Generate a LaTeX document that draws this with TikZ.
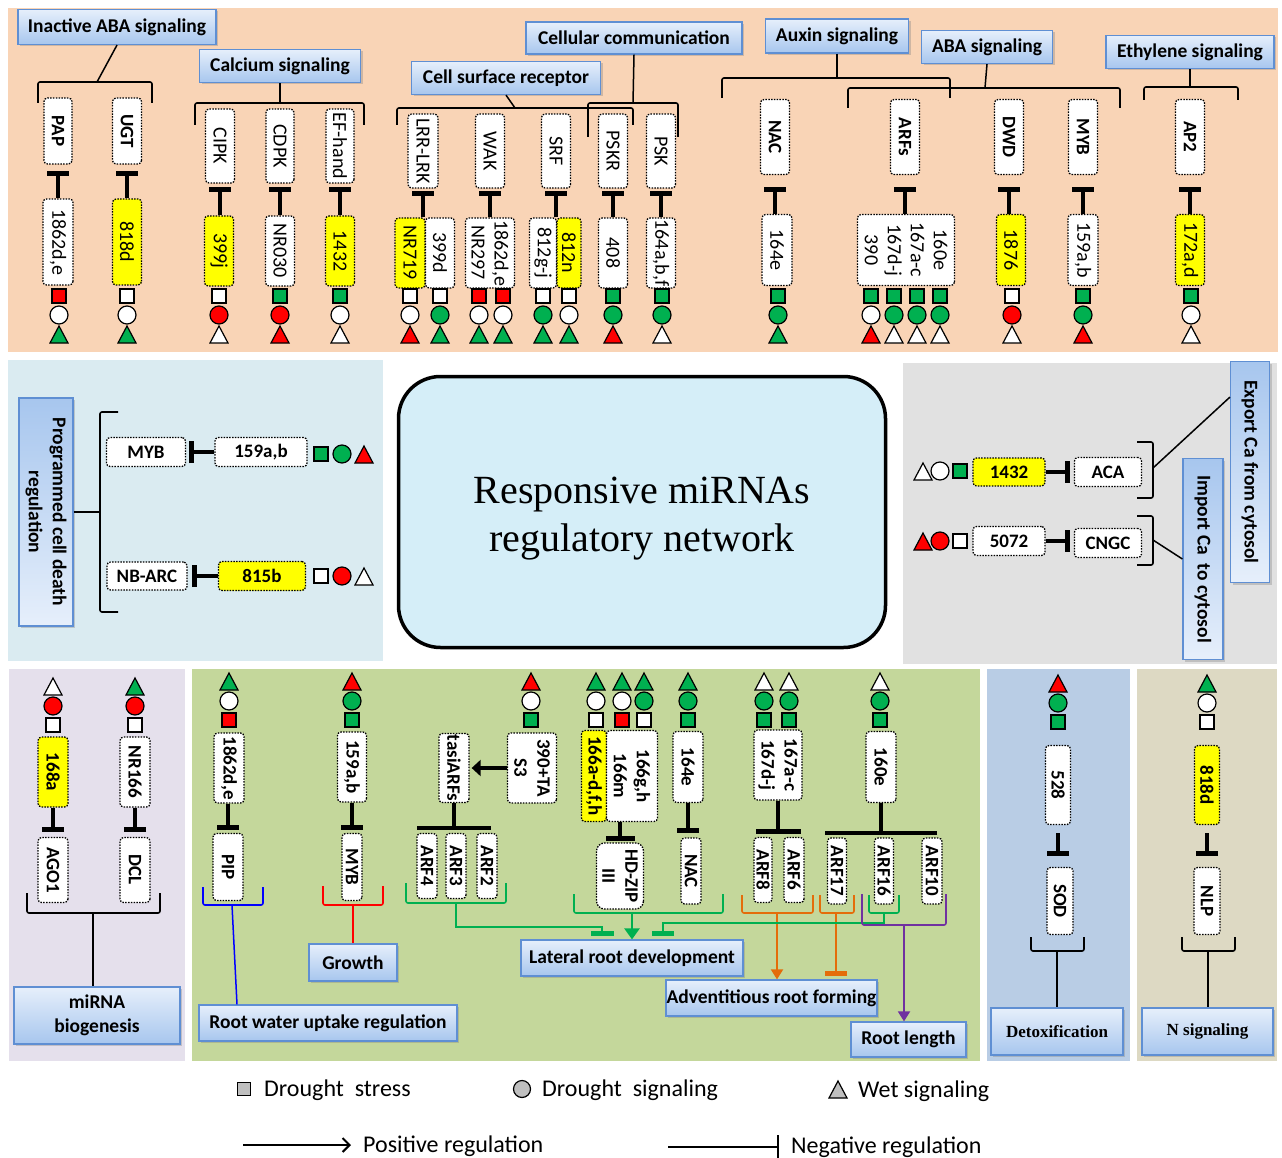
\documentclass[tikz,border=0pt]{standalone}
\usepackage{fontspec}
\setmainfont{Carlito}
\newfontfamily\tnr{Liberation Serif}
\usetikzlibrary{arrows.meta,shadows,calc}
\definecolor{peach}{HTML}{F9D4B6}
\definecolor{mlblue}{HTML}{DAEBF1}
\definecolor{mgray}{HTML}{E1E1E1}
\definecolor{lav}{HTML}{E5E0EC}
\definecolor{lgreen}{HTML}{C4D79B}
\definecolor{bpanel}{HTML}{B9CDE5}
\definecolor{tanp}{HTML}{DDD9C3}
\definecolor{titlefill}{HTML}{D5EEF8}
\definecolor{lbltop}{HTML}{E6EFFB}
\definecolor{lblbot}{HTML}{A7C6EE}
\definecolor{lbldraw}{HTML}{5F8FD3}
\definecolor{yel}{HTML}{FFFF00}
\definecolor{rd}{HTML}{FF0000}
\definecolor{gn}{HTML}{00B050}
\definecolor{glc}{HTML}{00B050}
\definecolor{olc}{HTML}{E46C0A}
\definecolor{plc}{HTML}{7030A0}
\definecolor{blc}{HTML}{0000FF}
\definecolor{rlc}{HTML}{FF0000}
\definecolor{lgd}{HTML}{BFBFBF}
\newcommand\fs[2]{\fontsize{#1}{#2}\selectfont}
\newcommand\gbf{\fs{19}{23}\bfseries}
\newcommand\GB[8][]{\node[gb,fill=#7,minimum width=#6,minimum height=#5,#1] (#2) at (#3,#4) {#8};}
\newcommand\GH[8][]{\node[gbh,fill=#7,minimum width=#5,minimum height=#6,#1] (#2) at (#3,#4) {#8};}
\newcommand\SQ[3]{\filldraw[sym,fill=#3] ({#1-7},{#2-7}) rectangle ({#1+7},{#2+7});}
\newcommand\CI[3]{\filldraw[sym,fill=#3] (#1,#2) circle[radius=9pt];}
\newcommand\TR[3]{\filldraw[sym,fill=#3] ({#1-9},{#2+8}) -- (#1,{#2-9}) -- ({#1+9},{#2+8}) -- cycle;}
\newcommand\ST[4]{\SQ{#1}{296}{#2}\CI{#1}{315}{#3}\TR{#1}{335}{#4}}
\newcommand\SB[5]{\TR{#1}{#2}{#3}\CI{#1}{#2+19}{#4}\SQ{#1}{#2+38}{#5}}
\begin{document}
\begin{tikzpicture}[x=1pt,y=-1pt,
  gb/.style={draw, line width=1.3pt, dash pattern=on 1.5pt off 1.3pt, rounded corners=3.5pt, inner sep=0pt, align=center, rotate=-90, font=\fs{20}{23}},
  gbh/.style={draw, line width=1.3pt, dash pattern=on 1.5pt off 1.3pt, rounded corners=3.5pt, inner sep=0pt, align=center, font=\gbf},
  lbl/.style={draw=lbldraw, line width=1.2pt, top color=lbltop, bottom color=lblbot, font=\fs{19.5}{24}\bfseries, align=center, inner sep=0pt, drop shadow={opacity=0.35, shadow xshift=2pt, shadow yshift=-2pt}},
  lblr/.style={lbl, rotate=-90, top color=lblbot, bottom color=lbltop},
  sym/.style={line width=1.2pt},
  inh/.style={line width=3.5pt, -{Bar[width=22pt,line width=5pt]}},
  ln/.style={line width=1.5pt},
  brk/.style={line width=1.6pt, rounded corners=2pt},
  gl/.style={line width=1.8pt, draw=glc},
  ol/.style={line width=1.8pt, draw=olc},
  pl/.style={line width=1.8pt, draw=plc},
  lgt/.style={anchor=west, inner sep=0pt, font=\fs{24}{27}}]
\useasboundingbox (0,0) rectangle (1282,1158);
\fill[white] (0,0) rectangle (1282,1158);
% panels
\fill[peach] (8,8) rectangle (1278,352);
\fill[mlblue] (8,360) rectangle (383,661);
\fill[mgray] (903,363) rectangle (1277,664);
\fill[lav] (9,669) rectangle (185,1061);
\fill[lgreen] (192,669) rectangle (980,1061);
\fill[bpanel] (987,669) rectangle (1130,1061);
\fill[tanp] (1137,669) rectangle (1277,1061);

% ---------------- TOP PANEL ----------------
\node[lbl,minimum width=198,minimum height=35] (lInact) at (117,27) {Inactive ABA signaling};
\node[lbl,minimum width=161,minimum height=33] (lCal) at (280,66) {Calcium signaling};
\node[lbl,minimum width=189,minimum height=33] (lCSR) at (506,78) {Cell surface receptor};
\node[lbl,minimum width=216,minimum height=32] (lCC) at (634,38) {Cellular communication};
\node[lbl,minimum width=143,minimum height=34] (lAux) at (837,36) {Auxin signaling};
\node[lbl,minimum width=131,minimum height=33] (lABA) at (987,47) {ABA signaling};
\node[lbl,minimum width=168,minimum height=33] (lEth) at (1190,52) {Ethylene signaling};

% brackets top
\draw[brk] (38,103) -- (38,82) -- (152,82) -- (152,103);
\coordinate (bInact) at (97,82);
\draw[ln] (lInact.south) -- (bInact);
\draw[brk] (195,125) -- (195,103) -- (364,103) -- (364,125);
\coordinate (bCal) at (280,103);
\draw[ln] (lCal.south) -- (bCal);
\draw[brk] (397,125) -- (397,108) -- (633,108) -- (633,125);
\coordinate (bCSR) at (515,108);
\draw[ln] (lCSR.south) -- (bCSR);
\draw[brk] (588,137) -- (588,103) -- (678,103) -- (678,137);
\coordinate (bCC) at (633,103);
\draw[ln] (lCC.south) -- (bCC);
\draw[brk] (722,98) -- (722,78) -- (950,78) -- (950,98);
\coordinate (bAux) at (837,78);
\draw[ln] (lAux.south) -- (bAux);
\draw[brk] (848,108) -- (848,88) -- (1120,88) -- (1120,108);
\coordinate (bABA) at (985,88);
\draw[ln] (lABA.south) -- (bABA);
\draw[brk] (1144,100) -- (1144,87) -- (1238,87) -- (1238,100);
\coordinate (bEth) at (1190,87);
\draw[ln] (lEth.south) -- (bEth);

% genes group 1
\GB[font=\gbf]{gPAP}{58}{131}{28}{66}{white}{PAP}
\GB[font=\gbf]{gUGT}{127}{131}{29}{66}{white}{UGT}
\GB{m1862a}{58}{242}{30}{86}{white}{1862d,e}
\GB{m818a}{127}{242}{29}{86}{yel}{818d}
\draw[inh,shorten >=6.5pt] (gPAP |- m1862a.west) -- (gPAP.east);
\draw[inh,shorten >=6.5pt] (gUGT |- m818a.west) -- (gUGT.east);
% calcium
\GB{gCIPK}{220}{146}{29}{74}{white}{CIPK}
\GB{gCDPK}{280}{146}{28}{74}{white}{CDPK}
\GB{gEF}{340}{146}{28}{74}{white}{EF-hand}
\GB{m399j}{219}{251}{29}{70}{yel}{399j}
\GB{mNR030}{280}{251}{29}{70}{white}{NR030}
\GB{m1432a}{340}{251}{29}{70}{yel}{1432}
\draw[inh,shorten >=3.5pt] (gCIPK |- m399j.west) -- (gCIPK.east);
\draw[inh,shorten >=3.5pt] (gCDPK |- mNR030.west) -- (gCDPK.east);
\draw[inh,shorten >=3.5pt] (gEF |- m1432a.west) -- (gEF.east);
% cell surface
\GB{gLRR}{423}{151}{30}{74}{white}{LRR-LRK}
\GB{gWAK}{490}{151}{29}{74}{white}{WAK}
\GB{gSRF}{556}{151}{29}{74}{white}{SRF}
\GB{gPSKR}{613}{151}{29}{74}{white}{PSKR}
\GB{gPSK}{661}{151}{29}{74}{white}{PSK}
\GB{mNR719}{410}{253}{30}{70}{yel}{NR719}
\GB{m399d}{440}{253}{29}{70}{white}{399d}
\GB{mWAK}{490}{253}{49}{70}{white}{1862d,e\\NR297}
\GB{m812gj}{543}{253}{27}{70}{white}{812g-j}
\GB{m812n}{569}{253}{24}{70}{yel}{812n}
\GB{m408}{613}{253}{29}{70}{white}{408}
\GB{m164abf}{661}{253}{29}{70}{white}{164a,b,f}
\draw[inh,shorten >=2.5pt] (gLRR |- mNR719.west) -- (gLRR.east);
\draw[inh,shorten >=2.5pt] (gWAK |- mWAK.west) -- (gWAK.east);
\draw[inh,shorten >=2.5pt] (gSRF |- m812gj.west) -- (gSRF.east);
\draw[inh,shorten >=2.5pt] (gPSKR |- m408.west) -- (gPSKR.east);
\draw[inh,shorten >=2.5pt] (gPSK |- m164abf.west) -- (gPSK.east);
% auxin / ABA / ethylene
\GB[font=\gbf]{gNAC}{775}{137}{29}{75}{white}{NAC}
\GB[font=\gbf]{gARFs}{905}{137}{29}{75}{white}{ARFs}
\GB[font=\gbf]{gDWD}{1009}{137}{29}{75}{white}{DWD}
\GB[font=\gbf]{gMYB}{1083}{137}{29}{75}{white}{MYB}
\GB[font=\gbf]{gAP2}{1190}{137}{29}{75}{white}{AP2}
\GB{m164e}{777}{250}{30}{71}{white}{164e}
\GB{mARFs}{906}{250}{97}{71}{white}{160e\\167a-c\\167d-j\\390}
\GB{m1876}{1011}{250}{29}{71}{yel}{1876}
\GB{m159t}{1083}{250}{30}{71}{white}{159a,b}
\GB{m172}{1190}{250}{29}{71}{yel}{172a,d}
\draw[inh,shorten >=11.5pt] (gNAC |- m164e.west) -- (gNAC.east);
\draw[inh,shorten >=11.5pt] (gARFs |- mARFs.west) -- (gARFs.east);
\draw[inh,shorten >=11.5pt] (gDWD |- m1876.west) -- (gDWD.east);
\draw[inh,shorten >=11.5pt] (gMYB |- m159t.west) -- (gMYB.east);
\draw[inh,shorten >=11.5pt] (gAP2 |- m172.west) -- (gAP2.east);

% symbols top
\ST{59}{rd}{white}{gn}
\ST{127}{white}{white}{gn}
\ST{219}{white}{rd}{white}
\ST{280}{gn}{rd}{rd}
\ST{340}{gn}{white}{white}
\ST{410}{white}{white}{rd}
\ST{440}{white}{gn}{gn}
\ST{479}{rd}{white}{gn}
\ST{503}{rd}{white}{gn}
\ST{543}{white}{gn}{gn}
\ST{569}{white}{white}{gn}
\ST{613}{gn}{gn}{rd}
\ST{662}{gn}{gn}{white}
\ST{778}{gn}{gn}{gn}
\ST{871}{gn}{white}{rd}
\ST{894}{gn}{gn}{white}
\ST{917}{gn}{gn}{white}
\ST{940}{gn}{gn}{white}
\ST{1012}{white}{rd}{white}
\ST{1083}{gn}{gn}{rd}
\ST{1191}{gn}{white}{white}

% ---------------- MIDDLE ----------------
\node[lblr, minimum width=228, minimum height=54] (lPCD) at (46,512) {Programmed cell death\\regulation};
\draw[brk] (118,412) -- (100,412) -- (100,612) -- (118,612);
\coordinate (bPCD) at (100,512);
\draw[ln] (lPCD.north) -- (bPCD);
\GH{hMYB}{146}{452}{79}{29}{white}{MYB}
\GH{h159}{261}{452}{92}{29}{white}{159a,b}
\draw[inh, shorten >=3pt] (h159) -- (hMYB);
\GH{hNB}{147}{576}{80}{28}{white}{NB-ARC}
\GH{h815}{262}{576}{87}{29}{yel}{815b}
\draw[inh, shorten >=4pt] (h815) -- (hNB);
\SQ{321}{454}{gn}\CI{342}{454}{gn}\TR{364}{455}{rd}
\SQ{321}{576}{white}\CI{342}{576}{rd}\TR{364}{577}{white}

\node[draw, line width=3.5pt, rounded corners=42pt, fill=titlefill, minimum width=487, minimum height=271] (title) at (642,512) {};
\node[align=center, inner sep=0pt, font=\tnr\fs{40}{48}] (titletxt) at (642,519) {Responsive miRNAs\\regulatory network};

\node[lblr, minimum width=221, minimum height=39] (lExp) at (1250,472) {Export Ca from cytosol};
\node[lblr, minimum width=201, minimum height=40] (lImp) at (1203,559) {Import Ca\ \ to cytosol};
\GH{hACA}{1108}{472}{67}{29}{white}{ACA}
\GH{h1432}{1009}{472}{72}{28}{yel}{1432}
\draw[inh, shorten >=4pt] (h1432) -- (hACA);
\GH{hCNGC}{1108}{543}{67}{29}{white}{CNGC}
\GH{h5072}{1009}{541}{72}{29}{white}{5072}
\draw[inh, shorten >=4pt] (h5072) -- (h5072 -| hCNGC.west);
\TR{923}{472}{white}\CI{940}{471}{white}\SQ{960}{471}{gn}
\TR{923}{542}{rd}\CI{940}{541}{rd}\SQ{960}{541}{white}
\draw[brk] (1137,442) -- (1153,442) -- (1153,498) -- (1137,498);
\coordinate (bACA) at (1153,468);
\draw[ln] (bACA) -- ($(lExp.south west)!0.163!(lExp.south east)$);
\draw[brk] (1137,516) -- (1153,516) -- (1153,565) -- (1137,565);
\coordinate (bCNGC) at (1153,540);
\draw[ln] (bCNGC) -- (lImp.south);

% ---------------- BOTTOM ----------------
% lavender
\SB{53}{687}{white}{rd}{white}
\SB{135}{687}{gn}{rd}{white}
\GB[font=\gbf]{b168a}{53}{772}{30}{70}{yel}{168a}
\GB[font=\gbf]{bNR166}{135}{772}{30}{70}{white}{NR166}
\GB[font=\gbf]{bAGO1}{53}{870}{30}{65}{white}{AGO1}
\GB[font=\gbf]{bDCL}{135}{870}{30}{65}{white}{DCL}
\draw[inh, shorten >=5pt] (bAGO1 |- b168a.east) -- (bAGO1.west);
\draw[inh, shorten >=5pt] (bDCL |- bNR166.east) -- (bDCL.west);
\node[lbl, minimum width=166, minimum height=57] (lMB) at (97,1015.5) {miRNA\\biogenesis};
\draw[brk] (27,893) -- (27,913) -- (160,913) -- (160,893);
\coordinate (bMB) at (93,913);
\draw[ln] (bMB) -- (bMB |- lMB.north);

% green panel
\node[lbl, minimum width=258, minimum height=36] (lRW) at (328,1023) {Root water uptake regulation};
\node[lbl, minimum width=88, minimum height=37] (lGr) at (353,962.5) {Growth};
\node[lbl, minimum width=222, minimum height=36] (lLat) at (632,958) {Lateral root development};
\node[lbl, minimum width=211, minimum height=36] (lAd) at (771.5,998) {Adventitious root forming};
\node[lbl, minimum width=115, minimum height=35] (lRL) at (908.5,1039.5) {Root length};

\SB{229}{682}{gn}{white}{rd}
\GB[font=\gbf]{b1862}{229}{768}{30}{70}{white}{1862d,e}
\GB[font=\gbf]{bPIP}{228}{867}{30}{67}{white}{PIP}
\draw[inh, shorten >=3pt] (bPIP |- b1862.east) -- (bPIP.west);
\draw[brk, draw=blc] (203,887) -- (203,905) -- (263,905) -- (263,887);
\coordinate (cPIP) at (232,905);
\draw[ln, draw=blc] (cPIP) -- (237,0 |- lRW.north);

\SB{352}{682}{rd}{gn}{gn}
\GB[font=\gbf]{b159}{352}{767}{29}{70}{white}{159a,b}
\GB[font=\gbf]{bMYB}{352}{867}{20}{67}{white}{MYB}
\draw[inh, shorten >=3pt] (bMYB |- b159.east) -- (bMYB.west);
\draw[brk, draw=rlc] (323,886) -- (323,905) -- (383,905) -- (383,886);
\coordinate (cGr) at (353,905);
\draw[ln, draw=rlc] (cGr) -- (cGr |- lGr.north);

\SB{531}{682}{rd}{white}{gn}
\GB[font=\gbf]{b390}{532}{768}{49}{70}{white}{390+TA\\S3}
\GB[font=\gbf]{bTasi}{454}{768}{30}{69}{white}{tasiARFs}
\draw[line width=4pt, -{Triangle[length=9pt,width=16pt]}, shorten >=2pt] (b390) -- (bTasi);
\draw[line width=3.5pt, -{Bar[width=74pt,line width=4.5pt]}] (bTasi.east) -- ++(0,27);
\GB[font=\gbf]{bARF4}{427}{866}{20}{65}{white}{ARF4}
\GB[font=\gbf]{bARF3}{456}{866}{20}{65}{white}{ARF3}
\GB[font=\gbf]{bARF2}{487}{866}{20}{65}{white}{ARF2}
\draw[brk, draw=glc] (406,883) -- (406,903) -- (506,903) -- (506,883);
\coordinate (cARF) at (456,903);
\coordinate (kL) at (602,927);
\draw[gl, -{Bar[width=23pt,line width=5pt]}, shorten >=3pt] (cARF) |- (kL) -- (kL |- lLat.north);

\SB{596}{682}{gn}{white}{white}
\SB{622}{682}{gn}{white}{rd}
\SB{644}{682}{gn}{gn}{white}
\GB[font=\gbf]{b166y}{594}{776}{25}{91}{yel}{166a-d,f,h}
\GB[font=\gbf]{b166w}{632}{776}{51}{91}{white}{166g,h\\166m}
\GB[font=\gbf,rounded corners=8pt]{bHD}{620}{876}{47}{66}{white}{HD-ZIP\\III}
\draw[line width=3.5pt, -{Bar[width=29pt,line width=5pt]}, shorten >=1pt] (bHD |- b166w.east) -- (bHD.west);

\SB{688}{682}{gn}{gn}{gn}
\GB[font=\gbf]{b164e}{688}{767}{30}{71}{white}{164e}
\GB[font=\gbf]{bNAC}{691}{871}{20}{66}{white}{NAC}
\draw[inh, shorten >=4pt] (b164e.east) -- (b164e.east |- bNAC.west);
\draw[brk, draw=glc] (574,894) -- (574,913) -- (723,913) -- (723,894);
\coordinate (cHD) at (632,913);
\draw[gl, line width=2.5pt, -{Triangle[length=11pt,width=15pt]}] (cHD) -- (cHD |- lLat.north);

\SB{764}{682}{white}{gn}{gn}
\SB{789}{682}{white}{gn}{gn}
\GB[font=\gbf]{b167}{778}{765}{48}{70}{white}{167a-c\\167d-j}
\draw[line width=3.5pt, -{Bar[width=45pt,line width=4.5pt]}] (b167.east) -- ++(0,33);
\GB[font=\gbf]{bARF8}{763}{870}{18}{65}{white}{ARF8}
\GB[font=\gbf]{bARF6}{794}{870}{20}{65}{white}{ARF6}
\draw[brk, draw=olc] (742,895) -- (742,913) -- (813,913) -- (813,895);
\coordinate (cA1) at (777,913);
\draw[ol, -{Triangle[length=10pt,width=12pt]}] (cA1) -- (cA1 |- lAd.north);

\SB{880}{682}{white}{gn}{gn}
\GB[font=\gbf]{b160}{881}{767}{30}{71}{white}{160e}
\draw[line width=3.5pt, -{Bar[width=112pt,line width=4.5pt]}] (b160.east) -- ++(0,32);
\GB[font=\gbf]{bARF17}{837}{871}{19}{66}{white}{ARF17}
\GB[font=\gbf]{bARF16}{884}{871}{19}{66}{white}{ARF16}
\GB[font=\gbf]{bARF10}{932}{871}{20}{66}{white}{ARF10}
\draw[brk, draw=olc] (820,895) -- (820,913) -- (854,913) -- (854,895);
\coordinate (cA2) at (836,913);
\draw[ol, -{Bar[width=22pt,line width=5pt]}, shorten >=3pt] (cA2) -- (cA2 |- lAd.north);
\draw[brk, draw=glc] (869,895) -- (869,913) -- (899,913) -- (899,895);
\coordinate (cA3) at (884,913);
\coordinate (kR) at (663,923);
\draw[gl, -{Bar[width=22pt,line width=5pt]}, shorten >=3pt] (cA3) |- (kR) -- (kR |- lLat.north);
\draw[brk, draw=plc] (862,894) -- (862,925) -- (946,925) -- (946,894);
\coordinate (cA4) at (904,925);
\draw[pl, -{Triangle[length=10pt,width=12pt]}] (cA4) -- (cA4 |- lRL.north);

% blue panel
\SB{1058}{684}{rd}{gn}{gn}
\GB[font=\gbf]{b528}{1058}{785}{25}{79}{white}{528}
\GB[font=\gbf]{bSOD}{1060}{901}{26}{67}{white}{SOD}
\draw[inh, shorten <=8pt, shorten >=11pt] (b528.east) -- (b528.east |- bSOD.west);
\node[lbl, font=\tnr\fs{17}{20}\bfseries, minimum width=132, minimum height=47] (lDet) at (1057,1031.5) {Detoxification};
\draw[brk] (1031,937) -- (1031,951) -- (1084,951) -- (1084,937);
\coordinate (cDet) at (1057,951);
\draw[ln] (cDet) -- (cDet |- lDet.north);

% tan panel
\SB{1207}{684}{gn}{white}{white}
\GB[font=\gbf]{b818}{1207}{785}{25}{79}{yel}{818d}
\GB[font=\gbf]{bNLP}{1207}{901}{26}{67}{white}{NLP}
\draw[inh, shorten <=8pt, shorten >=11pt] (b818.east) -- (b818.east |- bNLP.west);
\node[lbl, font=\tnr\fs{17}{20}\bfseries, minimum width=131, minimum height=47] (lN) at (1207.5,1031.5) {N signaling};
\draw[brk] (1182,937) -- (1182,951) -- (1235,951) -- (1235,937);
\coordinate (cN) at (1208,951);
\draw[ln] (cN) -- (cN |- lN.north);

% ---------------- LEGEND ----------------
\filldraw[sym, fill=lgd] (237.5,1082.5) rectangle (250.5,1095.5);
\node[lgt] (lg1) at (264,1090) {Drought\ \ stress};
\filldraw[sym, fill=lgd] (522,1089) circle[radius=8.5pt];
\node[lgt] (lg2) at (542,1090) {Drought\ \ signaling};
\filldraw[sym, fill=lgd] (829,1098) -- (838,1081) -- (847,1098) -- cycle;
\node[lgt] (lg3) at (858,1091) {Wet signaling};
\coordinate (pa1) at (243,1145);
\coordinate (pa2) at (351,1145);
\draw[line width=2pt, -{Straight Barb[length=7pt,width=14pt]}] (pa1) -- (pa2);
\node[lgt] (lg4) at (363,1146) {Positive regulation};
\coordinate (na1) at (668,1147);
\coordinate (na2) at (779,1147);
\draw[line width=2pt, -{Bar[width=24pt,line width=2pt]}] (na1) -- (na2);
\node[lgt] (lg5) at (791,1147) {Negative regulation};
\end{tikzpicture}
\end{document}
